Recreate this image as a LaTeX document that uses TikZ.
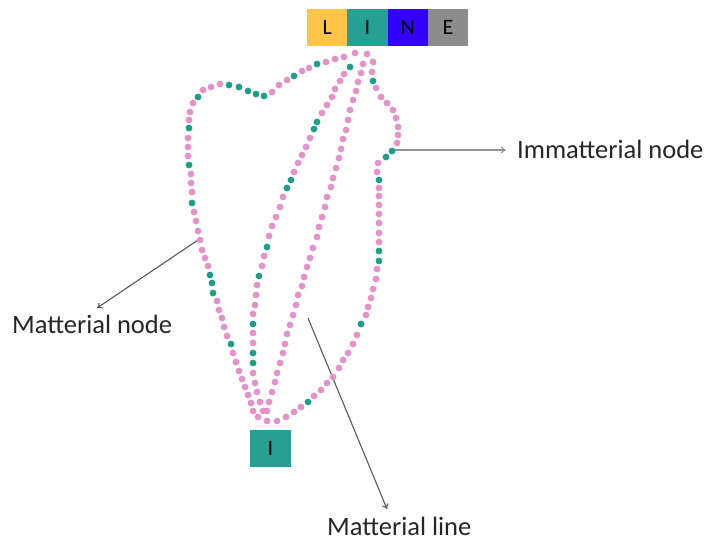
\documentclass[tikz,border=0pt]{standalone}
\usepackage{fontspec}
\setmainfont{Carlito}
\usepackage{tikz}
\usetikzlibrary{arrows,arrows.meta,positioning}

\definecolor{boxyellow}{RGB}{255,196,74}
\definecolor{boxteal}{RGB}{38,160,146}
\definecolor{boxblue}{RGB}{51,0,255}
\definecolor{boxgray}{RGB}{140,140,140}
\definecolor{beadpink}{RGB}{230,146,202}
\definecolor{beadteal}{RGB}{28,158,138}

\tikzset{
  letter/.style={minimum width=40.3, minimum height=37, inner sep=0pt, outer sep=0pt, font=\fontsize{22}{22}\selectfont},
  tag/.style={inner sep=0pt, anchor=base west, text=black!85, font=\fontsize{26.5}{30}\selectfont},
  pointer/.style={-{To[length=5pt,width=7pt]},line width=1.1pt}
}

\begin{document}
\begin{tikzpicture}[x=1pt,y=-1pt]
\useasboundingbox (0,0) rectangle (713,542);

\node[letter,fill=boxyellow] (bL) at (327.2,27.5) {L};
\node[letter,fill=boxteal,right=0pt of bL] (bI) {I};
\node[letter,fill=boxblue,right=0pt of bI] (bN) {N};
\node[letter,fill=boxgray,right=0pt of bN] (bE) {E};
\node[letter,fill=boxteal,minimum width=41] (bot) at (270.5,448.5) {I};

\node[tag] (imm) at (517,158) {Immatterial node};
\node[tag] (mnode) at (12,333) {Matterial node};
\node[tag] (mline) at (327,535) {Matterial line};

\coordinate (imdot) at (394,150); \coordinate (imtip) at (506,150);
\coordinate (mndot) at (198,240); \coordinate (mntip) at (97,308);
\coordinate (mldot) at (308,318); \coordinate (mltip) at (387,509);
\draw [pointer,gray!85] (imdot) -- (imtip);
\draw [pointer,black!65] (mndot) -- (mntip);
\draw [pointer,black!65] (mldot) -- (mltip);

% outer string
\foreach \x/\y in {355/53,344/57,335/59,326/62,309/68,302/71,287/80,279/85,272/92,220/84,211/87,203/90,
  193/103,190/112,189/120,188/138,188/147,188/156,191/174,191/183,192/192,194/212,196/221,198/231,200/240,
  202/250,205/258,208/266,217/301,219/310,222/318,224/327,227/336,233/353,236/362,239/371,242/379,245/387,
  248/395,251/403,253/411,258/417,267/421,277/421,286/417,294/412,301/407,314/396,321/390,327/383,333/377,
  339/368,343/360,348/353,353/344,357/335,366/315,368/307,371/298,373/289,376/279,377/269,379/242,379/233,
  379/223,379/214,379/205,379/196,379/188,377/172,378/163,397/143,398/135,398/127,396/118,393/110,387/103,
  381/97,376/88,372/72,373/62,367/54}
  \fill[beadpink] (\x,\y) circle (3.4pt);
% inner strings
\foreach \x/\y in {344/74,340/81,335/89,332/97,327/105,322/113,310/138,306/147,302/155,298/163,294/172,
  283/197,280/207,276/217,272/226,269/236,264/256,262/266,257/285,256/295,255/305,253/314,253/333,253/343,
  253/373,255/383,257/392,260/402,263/411}
  \fill[beadpink] (\x,\y) circle (3.4pt);
\foreach \x/\y in {363/64,361/73,358/82,356/91,353/100,350/110,348/120,346/130,343/139,341/149,339/158,
  336/168,333/178,331/187,327/197,325/207,322/217,319/227,317/237,313/248,310/258,307/267,304/277,302/286,
  298/295,296/305,293/315,290/325,287/334,285/344,283/353,280/363,277/373,275/382,272/392,269/402,267/411}
  \fill[beadpink] (\x,\y) circle (3.4pt);
% teal beads
\foreach \x/\y in {317/64,294/76,264/96,256/94,248/91,239/87,229/85,198/97,189/128,189/165,192/203,
  210/275,212/283,213/293,231/344,308/402,361/324,379/261,379/251,379/180,386/157,392/151,373/81,
  350/67,317/122,314/129,291/180,287/188,267/247,259/276,253/324,253/353,253/363}
  \fill[beadteal] (\x,\y) circle (3.4pt);
\end{tikzpicture}
\end{document}
